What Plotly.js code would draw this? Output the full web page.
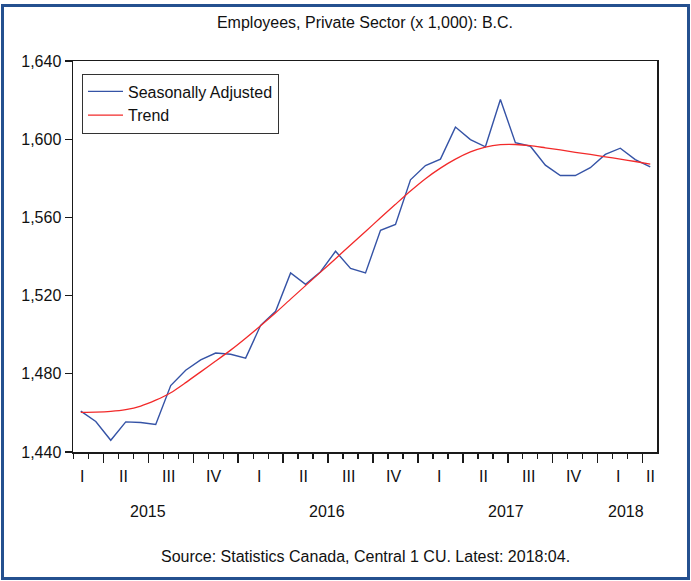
<!DOCTYPE html>
<html>
<head>
<meta charset="utf-8">
<script src="https://cdn.plot.ly/plotly-3.0.1.min.js"></script>
<style>
  html, body { margin: 0; padding: 0; background: #ffffff; }
  #wrap { position: relative; width: 691px; height: 581px; overflow: hidden; }
  #chart { position: absolute; left: 0; top: 0; width: 691px; height: 581px; }
  #frame { position: absolute; left: 1px; top: 4px; width: 683px; height: 570px;
           border: 3px solid #24508f; pointer-events: none; }
</style>
</head>
<body>
<div id="wrap">
  <div id="chart"></div>
  <div id="frame"></div>
</div>
<script>
// ---- Data (monthly, x 1,000) ----
const seasonallyAdjusted = [
  1460.9, 1455.6, 1446.0, 1455.4, 1455.1, 1454.1, 1474.0, 1481.8, 1487.1, 1490.6,
  1490.0, 1488.0, 1504.8, 1512.0, 1531.6, 1525.8, 1532.2, 1542.7, 1533.9, 1531.6,
  1553.4, 1556.4, 1579.2, 1586.5, 1589.8, 1606.2, 1599.8, 1596.1, 1620.3, 1598.2,
  1596.4, 1586.7, 1581.4, 1581.4, 1585.4, 1592.2, 1595.4, 1589.6, 1585.9
];
const trend = [
  1460.3, 1460.4, 1460.8, 1461.7, 1463.5, 1466.5, 1470.3, 1475.5, 1481.0, 1486.5,
  1492.1, 1498.2, 1504.6, 1511.2, 1518.2, 1525.1, 1532.0, 1538.9, 1545.9, 1552.8,
  1559.8, 1566.7, 1573.5, 1579.8, 1585.2, 1589.8, 1593.5, 1596.0, 1597.2, 1597.3,
  1596.7, 1595.6, 1594.5, 1593.3, 1592.2, 1591.0, 1589.8, 1588.6, 1587.3
];
const quarterLabels = ['I','II','III','IV','I','II','III','IV','I','II','III','IV','I','II'];
const yearLabels = ['2015','2016','2017','2018'];
const yTickValues = [1440, 1480, 1520, 1560, 1600, 1640];
const seriesNames = ['Seasonally Adjusted', 'Trend'];
const titleText = 'Employees, Private Sector (x 1,000): B.C.';
const sourceText = 'Source: Statistics Canada, Central 1 CU. Latest: 2018:04.';

// ---- Build ----
const idx = seasonallyAdjusted.map((_, i) => i);
const FONT = 'Liberation Sans, Arial, sans-serif';
const TXT = '#111111';

const traces = [
  { x: idx, y: seasonallyAdjusted, type: 'scatter', mode: 'lines', name: seriesNames[0],
    line: { color: '#3553a6', width: 1.4 } },
  { x: idx, y: trend, type: 'scatter', mode: 'lines', name: seriesNames[1],
    line: { color: '#f22a2a', width: 1.3, shape: 'spline', smoothing: 0.6 } }
];

const annotations = [];
const lastIdx = idx.length - 1;
quarterLabels.forEach((q, j) => {
  const pos = Math.min(Math.max(3 * j - 0.12, 0.05), lastIdx);
  annotations.push({ x: pos, y: -0.062, xref: 'x', yref: 'paper', text: q, showarrow: false,
    xanchor: 'center', yanchor: 'middle', font: { family: FONT, size: 16, color: TXT } });
});
yearLabels.forEach((yr, i) => {
  const start = Math.max(12 * i - 1.5, -1.3);
  const end = Math.min(12 * i + 10.5, lastIdx + 0.5);
  annotations.push({ x: (start + end) / 2 - 0.1, y: -0.151, xref: 'x', yref: 'paper', text: yr,
    showarrow: false, xanchor: 'center', yanchor: 'middle', font: { family: FONT, size: 16, color: TXT } });
});
annotations.push({ x: 0.5, y: -0.2675, xref: 'paper', yref: 'paper', text: sourceText, showarrow: false,
  xanchor: 'center', yanchor: 'middle', font: { family: FONT, size: 16, color: TXT } });

const layout = {
  width: 691, height: 581,
  margin: { l: 73, r: 34, t: 61, b: 128.5, pad: 0 },
  paper_bgcolor: '#ffffff', plot_bgcolor: '#ffffff',
  font: { family: FONT, size: 16, color: TXT },
  title: { text: titleText, x: 0.5, xref: 'paper', xanchor: 'center',
           y: 1 - 22.3 / 581, yref: 'container', yanchor: 'middle',
           font: { family: FONT, size: 16, color: TXT } },
  showlegend: true,
  legend: { x: 0.0154, y: 0.968, xanchor: 'left', yanchor: 'top',
            bgcolor: '#ffffff', bordercolor: '#333333', borderwidth: 1,
            itemwidth: 35,
            font: { family: FONT, size: 16, color: TXT }, tracegroupgap: 0 },
  xaxis: {
    range: [-0.52, 38.45], showgrid: false, zeroline: false,
    showline: true, linecolor: '#1a1a1a', linewidth: 1.5, mirror: true,
    tickmode: 'linear', tick0: 1.5, dtick: 3, ticks: 'outside', ticklen: 9, tickwidth: 1.3,
    tickcolor: '#1a1a1a', showticklabels: false,
    minor: { tick0: 0.5, dtick: 1, ticks: 'outside', ticklen: 5, tickwidth: 1.2, tickcolor: '#1a1a1a', showgrid: false }
  },
  yaxis: {
    range: [1440, 1640], showgrid: false, zeroline: false,
    showline: true, linecolor: '#1a1a1a', linewidth: 1.5, mirror: true,
    tickmode: 'array', tickvals: yTickValues, tickformat: ',d',
    ticks: 'outside', ticklen: 7, tickwidth: 1.3, tickcolor: '#1a1a1a',
    tickfont: { family: FONT, size: 16, color: TXT }
  },
  annotations: annotations
};

Plotly.newPlot('chart', traces, layout, { displayModeBar: false, staticPlot: true });
</script>
</body>
</html>
